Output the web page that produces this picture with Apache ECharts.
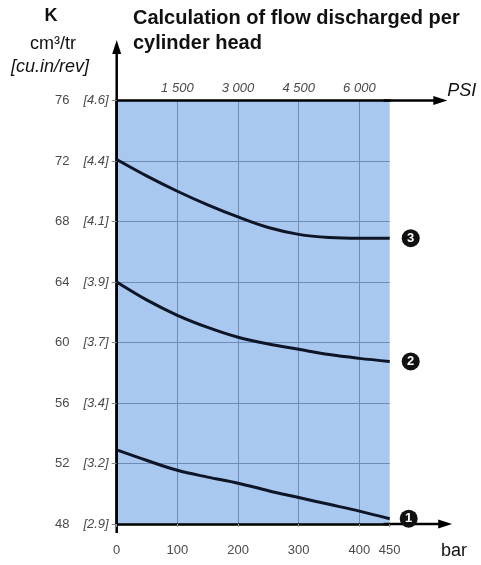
<!DOCTYPE html>
<html><head><meta charset="utf-8">
<script src="https://cdn.jsdelivr.net/npm/echarts@6/dist/echarts.min.js"></script>
<style>html,body{margin:0;padding:0;background:#fff}#c{width:481px;height:565px}</style>
</head><body><div id="c"></div>
<script>
// ---- data ----
const pressureBar = [0, 50, 100, 150, 200, 250, 300, 350, 400, 450];
const curve1 = [52.9, 52.2, 51.55, 51.1, 50.7, 50.2, 49.75, 49.3, 48.85, 48.35];
const curve2 = [64.0, 62.8, 61.8, 61.0, 60.35, 59.9, 59.55, 59.2, 58.95, 58.75];
const curve3 = [72.1, 71.0, 70.0, 69.1, 68.3, 67.6, 67.15, 66.95, 66.9, 66.9];
const curveNames = ['1', '2', '3'];
const yTicks = [48, 52, 56, 60, 64, 68, 72, 76];
const yTicksInch = ['2.9', '3.2', '3.4', '3.7', '3.9', '4.1', '4.4', '4.6'];
const psiTicksBar = [100, 200, 300, 400];
const psiLabels = ['1 500', '3 000', '4 500', '6 000'];
const titleText = 'Calculation of flow discharged per\ncylinder head';

const chart = echarts.init(document.getElementById('c'), null, {renderer: 'canvas'});
const FONT = 'Liberation Sans, Arial, sans-serif';
const gridColor = '#6f8cb6';
const labelGray = '#4a4a4a';

function mkSeries(vals, name, dist) {
  return {
    type: 'line', name: name, xAxisIndex: 0, yAxisIndex: 0,
    data: pressureBar.map((x, i) => [x, vals[i]]),
    smooth: 0.35, symbol: 'none', clip: false,
    lineStyle: {color: '#0d1526', width: 3},
    endLabel: {
      show: true, formatter: name, distance: dist,
      backgroundColor: '#111', borderRadius: 9, width: 18, height: 18, lineHeight: 18,
      align: 'center', color: '#fff', fontWeight: 'bold', fontSize: 13, fontFamily: FONT,
      padding: 0
    }
  };
}

const option = {
  animation: false,
  backgroundColor: '#fff',
  grid: {left: 116.7, right: 91.3, top: 100.5, bottom: 41, show: true,
         backgroundColor: '#a9c8ef', borderWidth: 0, containLabel: false},
  xAxis: [{
    type: 'value', position: 'bottom', min: 0, max: 450, interval: 100,
    axisLine: {show: true, lineStyle: {color: '#000', width: 2.5}},
    axisTick: {show: true, length: 3, inside: false, lineStyle: {color: '#999'}},
    axisLabel: {color: labelGray, fontSize: 13, fontFamily: FONT, margin: 20},
    splitLine: {show: true, showMinLine: false, showMaxLine: false, lineStyle: {color: gridColor, width: 1}}
  }, {
    type: 'value', position: 'top', min: 0, max: 450, interval: 100,
    axisLine: {show: true, lineStyle: {color: '#000', width: 2.5}},
    axisTick: {show: false},
    axisLabel: {color: labelGray, fontSize: 13, fontStyle: 'italic', fontFamily: FONT, margin: 6,
      formatter: v => { const i = psiTicksBar.indexOf(v); return i >= 0 ? psiLabels[i] : ''; }},
    splitLine: {show: false}
  }],
  yAxis: {
    type: 'value', min: 48, max: 76, interval: 4,
    axisLine: {show: true, lineStyle: {color: '#000', width: 2.5}},
    axisTick: {show: true, length: 5, lineStyle: {color: '#888'}},
    axisLabel: {margin: 8, fontFamily: FONT,
      formatter: v => { const i = yTicks.indexOf(v); return '{a|' + v + '}{b|[' + yTicksInch[i] + ']}'; },
      rich: {a: {color: labelGray, fontSize: 13, fontFamily: FONT, padding: [0, 14, 0, 0]},
             b: {color: labelGray, fontSize: 13, fontStyle: 'italic', fontFamily: FONT}}},
    splitLine: {show: true, showMinLine: false, showMaxLine: false, lineStyle: {color: gridColor, width: 1}}
  },
  series: [
    mkSeries(curve1, curveNames[0], 19),
    mkSeries(curve2, curveNames[1], 21),
    mkSeries(curve3, curveNames[2], 21)
  ]
};
chart.setOption(option);

// ---- axis arrows & text (positioned via library's coordinate conversion) ----
const p = (x, y) => chart.convertToPixel({xAxisIndex: 0, yAxisIndex: 0}, [x, y]);
const g = [];
const black = '#000';
// y axis extension with arrow
const yb = p(0, 47.4), yt = p(0, 79.2), ytip = p(0, 80.0);
g.push({type: 'line', shape: {x1: yb[0], y1: yb[1], x2: yt[0], y2: yt[1]}, style: {stroke: black, lineWidth: 2.5}});
g.push({type: 'polygon', shape: {points: [[ytip[0], ytip[1]], [ytip[0] - 4.5, ytip[1] + 14], [ytip[0] + 4.5, ytip[1] + 14]]}, style: {fill: black}});
// bottom axis extension
const xa = p(440, 48), xtip = p(553, 48);
g.push({type: 'line', shape: {x1: xa[0], y1: xa[1], x2: xtip[0] - 6, y2: xtip[1]}, style: {stroke: black, lineWidth: 2.5}});
g.push({type: 'polygon', shape: {points: [[xtip[0], xtip[1]], [xtip[0] - 14, xtip[1] - 4.5], [xtip[0] - 14, xtip[1] + 4.5]]}, style: {fill: black}});
// top axis extension
const ta = p(440, 76), ttip = p(545, 76);
g.push({type: 'line', shape: {x1: ta[0], y1: ta[1], x2: ttip[0] - 6, y2: ttip[1]}, style: {stroke: black, lineWidth: 2.5}});
g.push({type: 'polygon', shape: {points: [[ttip[0], ttip[1]], [ttip[0] - 14, ttip[1] - 4.5], [ttip[0] - 14, ttip[1] + 4.5]]}, style: {fill: black}});
// texts
g.push({type: 'text', x: 133, y: 6, style: {text: titleText, font: 'bold 20px ' + FONT, fill: '#111', lineHeight: 25}});
g.push({type: 'text', x: 51, y: 7, style: {text: 'K', font: 'bold 18px ' + FONT, fill: '#111', align: 'center'}});
g.push({type: 'text', x: 53, y: 35, style: {text: 'cm³/tr', font: '18px ' + FONT, fill: '#111', align: 'center'}});
g.push({type: 'text', x: 50, y: 58, style: {text: '[cu.in/rev]', font: 'italic 18px ' + FONT, fill: '#111', align: 'center'}});
g.push({type: 'text', x: ttip[0], y: ttip[1] - 19, style: {text: 'PSI', font: 'italic 18px ' + FONT, fill: '#111'}});
g.push({type: 'text', x: 441, y: 542, style: {text: 'bar', font: '18px ' + FONT, fill: '#111'}});
chart.setOption({graphic: g});
</script></body></html>
